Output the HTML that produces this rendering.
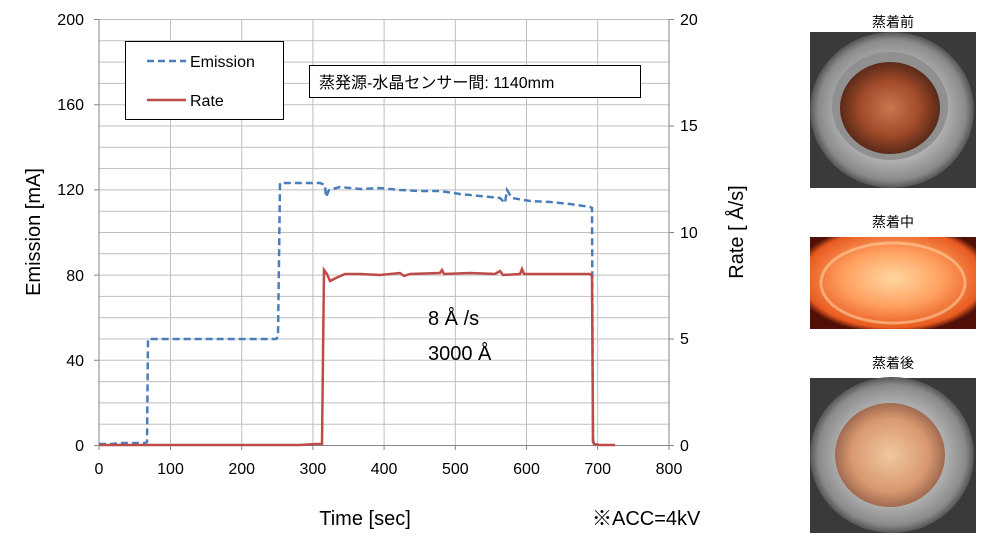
<!DOCTYPE html>
<html><head><meta charset="utf-8"><style>
body{margin:0;background:#fff;width:983px;height:538px;overflow:hidden}
svg text{font-family:"Liberation Sans","Noto Sans CJK JP",sans-serif}
</style></head><body>
<svg width="983" height="538" viewBox="0 0 983 538" xmlns="http://www.w3.org/2000/svg">
<defs>
<radialGradient id="cu" cx="50%" cy="50%" r="50%"><stop offset="0" stop-color="#c87850"/><stop offset="0.6" stop-color="#a04a2a"/><stop offset="1" stop-color="#5a2a18"/></radialGradient>
<radialGradient id="bowl" cx="50%" cy="50%" r="50%"><stop offset="0.6" stop-color="#b8b8b8"/><stop offset="0.9" stop-color="#8a8a8a"/><stop offset="1" stop-color="#555"/></radialGradient>
<radialGradient id="glow" cx="50%" cy="45%" r="60%"><stop offset="0" stop-color="#ffd8a0"/><stop offset="0.5" stop-color="#ffa060"/><stop offset="0.9" stop-color="#e85a20"/><stop offset="1" stop-color="#501008"/></radialGradient>
<radialGradient id="cu2" cx="50%" cy="50%" r="50%"><stop offset="0" stop-color="#f0c8a0"/><stop offset="0.7" stop-color="#d89870"/><stop offset="1" stop-color="#a06a50"/></radialGradient>
</defs>
<g stroke="#c0c0c0" stroke-width="1">
<!-- horizontal grid -->
<g id="h"></g>
</g>
<script>
(function(){var s='',ns='http://www.w3.org/2000/svg';})();
</script>
<g stroke="#bfbfbf" stroke-width="1" fill="none">
<path d="M99,19.5H669M99,40.8H669M99,62.1H669M99,83.4H669M99,104.7H669M99,126H669M99,147.3H669M99,168.6H669M99,189.9H669M99,211.2H669M99,232.5H669M99,253.8H669M99,275.1H669M99,296.4H669M99,317.7H669M99,339H669M99,360.3H669M99,381.6H669M99,402.9H669M99,424.2H669"/>
<path d="M170.5,19V445M241.7,19V445M312.9,19V445M384.1,19V445M455.3,19V445M526.5,19V445M597.7,19V445"/>
</g>
<g stroke="#868686" stroke-width="1" fill="none">
<path d="M99,19V450M669,19V445M94,445.5H669"/>
<path d="M94,19.5H99M94,104.7H99M94,189.9H99M94,275.1H99M94,360.3H99"/>
<path d="M170.5,445V450M241.7,445V450M312.9,445V450M384.1,445V450M455.3,445V450M526.5,445V450M597.7,445V450M669,445V450"/>
<path d="M669,19.5H674M669,126H674M669,232.5H674M669,339H674M669,445.5H674"/>
</g>
<g font-size="16" fill="#000" text-anchor="end">
<text x="84" y="25">200</text><text x="84" y="110">160</text><text x="84" y="195">120</text><text x="84" y="281">80</text><text x="84" y="366">40</text><text x="84" y="451">0</text>
</g>
<g font-size="16" fill="#000">
<text x="680" y="25">20</text><text x="680" y="131">15</text><text x="680" y="238">10</text><text x="680" y="344">5</text><text x="680" y="451">0</text>
</g>
<g font-size="16" fill="#000" text-anchor="middle">
<text x="99" y="474">0</text><text x="170.5" y="474">100</text><text x="241.7" y="474">200</text><text x="312.9" y="474">300</text><text x="384.1" y="474">400</text><text x="455.3" y="474">500</text><text x="526.5" y="474">600</text><text x="597.7" y="474">700</text><text x="669" y="474">800</text>
</g>
<text x="365" y="525" font-size="20" text-anchor="middle">Time [sec]</text>
<text x="592" y="525" font-size="20">※ACC=4kV</text>
<text transform="translate(40,232) rotate(-90)" font-size="20" text-anchor="middle">Emission [mA]</text>
<text transform="translate(743,232) rotate(-90)" font-size="20" text-anchor="middle">Rate [ Å/s]</text>
<!-- emission -->
<polyline fill="none" stroke="#4a7ebb" stroke-width="2.5" stroke-dasharray="7,4" points="99,444 113,444 118,443 145,443 147,442 148,339 160,339 276,339 278,337 280,183 295,183 320,183 325,185 326,197 329,190 340,187 360,189 380,188 400,190 420,191 440,191 460,194 480,196 500,198 505,203 507,190 512,198 530,201 550,202 570,204 590,207 592,208 593,445 596,445"/>
<!-- rate -->
<polyline fill="none" stroke="#be4b48" stroke-width="2.5" points="99,445 300,445 316,444 322,444 324,270 327,274 330,281 336,278 345,274 360,274 380,275 400,273 404,276 410,274 440,273 442,270 444,274 470,273 495,274 500,271 503,275 520,274 522,269 524,274 560,274 580,274 590,274 592,276 593,440 594,444 600,445 615,445"/>
<!-- legend -->
<rect x="125.5" y="41.5" width="158" height="78" fill="#fff" stroke="#000" stroke-width="1"/>
<line x1="147" y1="61" x2="186" y2="61" stroke="#4a7ebb" stroke-width="2.5" stroke-dasharray="7,4"/>
<line x1="147" y1="100" x2="186" y2="100" stroke="#be4b48" stroke-width="2.5"/>
<text x="190" y="67" font-size="16">Emission</text>
<text x="190" y="106" font-size="16">Rate</text>
<rect x="309.5" y="65.5" width="331" height="32" fill="#fff" stroke="#000" stroke-width="1"/>
<text x="319" y="88" font-size="16">蒸発源-水晶センサー間: 1140mm</text>
<text x="428" y="325" font-size="20">8 Å /s</text>
<text x="428" y="360" font-size="20">3000 Å</text>
<!-- photos -->
<g font-size="14" text-anchor="middle"><text x="893" y="27">蒸着前</text><text x="893" y="227">蒸着中</text><text x="893" y="368">蒸着後</text></g>
<rect x="810" y="32" width="166" height="156" fill="#3a3a3a"/>
<ellipse cx="892" cy="110" rx="82" ry="78" fill="url(#bowl)"/>
<ellipse cx="890" cy="106" rx="58" ry="54" fill="#909090"/>
<ellipse cx="890" cy="108" rx="50" ry="46" fill="url(#cu)"/>
<rect x="810" y="237" width="166" height="92" fill="url(#glow)"/>
<ellipse cx="893" cy="283" rx="72" ry="40" fill="none" stroke="#ffe0b0" stroke-width="3" opacity="0.5"/>
<rect x="810" y="378" width="166" height="155" fill="#3a3a3a"/>
<ellipse cx="892" cy="455" rx="82" ry="78" fill="url(#bowl)"/>
<ellipse cx="890" cy="455" rx="55" ry="52" fill="url(#cu2)"/>
</svg>
</body></html>
